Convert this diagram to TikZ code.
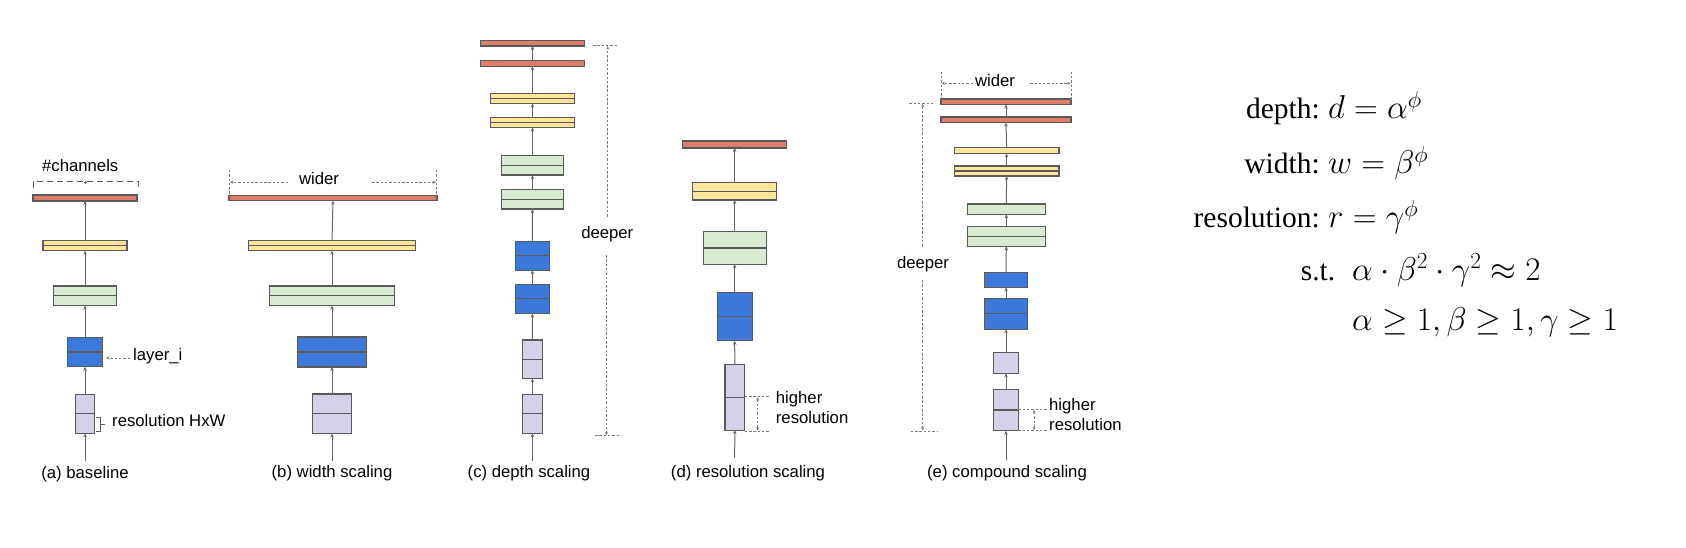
\RequirePackage{fix-cm}
\documentclass[tikz,border=0pt]{standalone}
\usepackage{fontspec}
\newfontfamily\arialf{Liberation Sans}
\newfontfamily\timesf{Liberation Serif}
\usetikzlibrary{arrows.meta}
\definecolor{cred}{HTML}{DD7E6B}
\definecolor{cyel}{HTML}{FFE599}
\definecolor{cgrn}{HTML}{D9EAD3}
\definecolor{cblu}{HTML}{3C78D8}
\definecolor{clav}{HTML}{D6D1E8}
\definecolor{cedge}{HTML}{5A5A5A}
\definecolor{cflow}{HTML}{666666}
\definecolor{cdash}{HTML}{7A7A7A}
\tikzset{
  layerbox/.style={draw=cedge, line width=1.1pt, inner sep=0pt, outer sep=0pt, rectangle},
  midline/.style={draw=cedge, line width=1.1pt},
  flow/.style={draw=cflow, line width=1pt, -{Stealth[length=4pt,width=3.5pt]}},
  dimline/.style={draw=cdash, line width=0.8pt, dash pattern=on 2.5pt off 1.8pt},
  dimarrow/.style={dimline, -{Stealth[length=3.5pt,width=3pt]}},
  dimdouble/.style={dimline, {Stealth[length=3.5pt,width=3pt]}-{Stealth[length=3.5pt,width=3pt]}},
  lbl/.style={font=\arialf\fontsize{16.7}{20}\selectfont, inner sep=0pt, text=black},
  eqlbl/.style={font=\timesf\fontsize{29.5}{36}\selectfont, inner sep=0pt, anchor=base east},
  eqmath/.style={font=\fontsize{33}{40}\selectfont, inner sep=0pt, anchor=base west},
}
\begin{document}
\begin{tikzpicture}[x=1pt,y=-1pt]
\useasboundingbox[fill=white] (0,0) rectangle (1686,548);

% ---------------- (a) baseline ----------------
\node[layerbox, fill=cred, minimum width=104pt, minimum height=6pt] (a1) at (85,198) {};
\node[layerbox, fill=cyel, minimum width=84pt, minimum height=10pt] (a2) at (85,245.7) {};
\node[layerbox, fill=cgrn, minimum width=63.4pt, minimum height=19.7pt] (a3) at (85,295.8) {};
\node[layerbox, fill=cblu, minimum width=34.7pt, minimum height=29.4pt] (a4) at (85,352) {};
\node[layerbox, fill=clav, minimum width=19.7pt, minimum height=39.3pt] (a5) at (85,413.7) {};
\foreach \n in {a2,a3,a4,a5} \draw[midline] (\n.west) -- (\n.east);
\coordinate (a0) at (85,461);
\draw[flow] (a0) -- (a5.south);
\draw[flow] (a5.north) -- (a4.south);
\draw[flow] (a4.north) -- (a3.south);
\draw[flow] (a3.north) -- (a2.south);
\draw[flow] (a2.north) -- (a1.south);
\node[lbl, anchor=base west] (chan) at (42,172) {\#channels};
\draw[draw=cedge, line width=1pt, dash pattern=on 6pt off 4pt] (33,188) -- (33,182) -- (138,182) -- (138,188);
\coordinate (chanlo) at (85.5,184.5);
\coordinate (chanhi) at (85.5,180.5);
\draw[draw=cedge, line width=0.8pt, -{Stealth[length=3pt,width=3.5pt]}] (chanlo) -- (chanhi);
\node[lbl, anchor=base west] (layi) at (133,360) {layer\_i};
\coordinate (layistart) at (130,358);
\coordinate (layiend) at (106,358);
\draw[dimarrow] (layistart) -- (layiend);
\draw[draw=cedge, line width=1.1pt] (96,417.3) -- (100.7,417.3) -- (100.7,431.7) -- (96,431.7)
  (100.7,424.5) -- (104.5,424.5);
\node[lbl, anchor=base west] (resHW) at (112,426) {resolution HxW};
\node[lbl, anchor=base] (capa) at (85,478) {(a) baseline};

% ---------------- (b) width scaling ----------------
\node[layerbox, fill=cred, minimum width=208pt, minimum height=5.5pt] (b1) at (333,198) {};
\node[layerbox, fill=cyel, minimum width=167pt, minimum height=10pt] (b2) at (332,245.7) {};
\node[layerbox, fill=cgrn, minimum width=125pt, minimum height=19.7pt] (b3) at (332,295.8) {};
\node[layerbox, fill=cblu, minimum width=69pt, minimum height=30pt] (b4) at (332,352) {};
\node[layerbox, fill=clav, minimum width=39pt, minimum height=39.7pt] (b5) at (332,413.8) {};
\foreach \n in {b2,b3,b4,b5} \draw[midline] (\n.west) -- (\n.east);
\coordinate (b0) at (332,461);
\draw[flow] (b0) -- (b5.south);
\draw[flow] (b5.north) -- (b4.south);
\draw[flow] (b4.north) -- (b3.south);
\draw[flow] (b3.north) -- (b2.south);
\draw[flow] (b2.north) -- (b1.south);
\node[lbl, anchor=base] (bwider) at (319,185) {wider};
\coordinate (btl) at (229.3,170); \coordinate (bbl) at (229.3,195);
\coordinate (btr) at (436.7,170); \coordinate (bbr) at (436.7,195);
\draw[dimline] (btl) -- (bbl);
\draw[dimline] (btr) -- (bbr);
\coordinate (bls) at (288,182.3); \coordinate (ble) at (229.8,182.3);
\coordinate (brs) at (372,182.3); \coordinate (bre) at (436.2,182.3);
\draw[dimarrow] (bls) -- (ble);
\draw[dimarrow] (brs) -- (bre);
\node[lbl, anchor=base] (capb) at (332,477) {(b) width scaling};

% ---------------- (c) depth scaling ----------------
\node[layerbox, fill=cred, minimum width=104.3pt, minimum height=5.5pt] (c1) at (532.5,43.3) {};
\node[layerbox, fill=cred, minimum width=104.3pt, minimum height=5.5pt] (c2) at (532.5,63.5) {};
\node[layerbox, fill=cyel, minimum width=83.6pt, minimum height=10pt] (c3) at (532.5,98.3) {};
\node[layerbox, fill=cyel, minimum width=83.6pt, minimum height=10pt] (c4) at (532.5,122.3) {};
\node[layerbox, fill=cgrn, minimum width=62.7pt, minimum height=19.7pt] (c5) at (532.5,165.2) {};
\node[layerbox, fill=cgrn, minimum width=62.7pt, minimum height=19.7pt] (c6) at (532.5,199.2) {};
\node[layerbox, fill=cblu, minimum width=34.3pt, minimum height=29.3pt] (c7) at (532.3,255.7) {};
\node[layerbox, fill=cblu, minimum width=34.3pt, minimum height=29.5pt] (c8) at (532.3,298.9) {};
\node[layerbox, fill=clav, minimum width=19.6pt, minimum height=38.5pt] (c9) at (532.5,359.2) {};
\node[layerbox, fill=clav, minimum width=19.6pt, minimum height=39pt] (c10) at (532.5,413.8) {};
\foreach \n in {c3,c4,c5,c6,c7,c8,c9,c10} \draw[midline] (\n.west) -- (\n.east);
\coordinate (c0) at (532.5,461);
\draw[flow] (c0) -- (c10.south);
\draw[flow] (c10.north) -- (c9.south);
\draw[flow] (c9.north) -- (c8.south);
\draw[flow] (c8.north) -- (c7.south);
\draw[flow] (c7.north) -- (c6.south);
\draw[flow] (c6.north) -- (c5.south);
\draw[flow] (c5.north) -- (c4.south);
\draw[flow] (c4.north) -- (c3.south);
\draw[flow] (c3.north) -- (c2.south);
\draw[flow] (c2.north) -- (c1.south);
\node[lbl, anchor=base] (cdeeper) at (607.3,238.7) {deeper};
\coordinate (ctt1) at (593,45.7); \coordinate (ctt2) at (618,45.7);
\coordinate (cbt1) at (595,435.7); \coordinate (cbt2) at (620,435.7);
\draw[dimline] (ctt1) -- (ctt2);
\draw[dimline] (cbt1) -- (cbt2);
\coordinate (cus) at (607.7,216.7); \coordinate (cue) at (607.7,46.2);
\coordinate (cds) at (606.5,255); \coordinate (cde) at (606.5,435.2);
\draw[dimarrow] (cus) -- (cue);
\draw[dimarrow] (cds) -- (cde);
\node[lbl, anchor=base] (capc) at (529,477) {(c) depth scaling};

% ---------------- (d) resolution scaling ----------------
\node[layerbox, fill=cred, minimum width=104pt, minimum height=7pt] (d1) at (734.7,144.5) {};
\node[layerbox, fill=cyel, minimum width=84pt, minimum height=17.3pt] (d2) at (734.7,191.4) {};
\node[layerbox, fill=cgrn, minimum width=62.7pt, minimum height=32.6pt] (d3) at (734.7,248) {};
\node[layerbox, fill=cblu, minimum width=34.7pt, minimum height=48.4pt] (d4) at (734.7,316.5) {};
\node[layerbox, fill=clav, minimum width=19.7pt, minimum height=65.7pt] (d5) at (734.8,397.2) {};
\foreach \n in {d2,d3,d4,d5} \draw[midline] (\n.west) -- (\n.east);
\coordinate (d0) at (734.7,458);
\draw[flow] (d0) -- (d5.south);
\draw[flow] (d5.north) -- (d4.south);
\draw[flow] (d4.north) -- (d3.south);
\draw[flow] (d3.north) -- (d2.south);
\draw[flow] (d2.north) -- (d1.south);
\coordinate (dh1a) at (744.7,396.7); \coordinate (dh1b) at (770,396.7);
\coordinate (dh2a) at (744.7,431); \coordinate (dh2b) at (770,431);
\draw[dimline] (dh1a) -- (dh1b);
\draw[dimline] (dh2a) -- (dh2b);
\coordinate (dva) at (757.7,397.2); \coordinate (dvb) at (757.7,430.5);
\draw[dimdouble] (dva) -- (dvb);
\node[lbl, anchor=base west] (dhigh) at (775.7,403.5) {higher};
\node[lbl, anchor=base west] (dres) at (775.7,423.5) {resolution};
\node[lbl, anchor=base] (capd) at (748,477) {(d) resolution scaling};

% ---------------- (e) compound scaling ----------------
\node[layerbox, fill=cred, minimum width=130pt, minimum height=5.5pt] (e1) at (1006,101.8) {};
\node[layerbox, fill=cred, minimum width=130pt, minimum height=5.5pt] (e2) at (1006,119.8) {};
\node[layerbox, fill=cyel, minimum width=104.7pt, minimum height=5.5pt] (e3) at (1006.6,150.7) {};
\node[layerbox, fill=cyel, minimum width=104.7pt, minimum height=10pt] (e4) at (1006.6,171) {};
\node[layerbox, fill=cgrn, minimum width=78pt, minimum height=10.3pt] (e5) at (1006.3,209.2) {};
\node[layerbox, fill=cgrn, minimum width=78pt, minimum height=20.3pt] (e6) at (1006.3,236.2) {};
\node[layerbox, fill=cblu, minimum width=43.4pt, minimum height=15.3pt] (e7) at (1006,279.7) {};
\node[layerbox, fill=cblu, minimum width=43.4pt, minimum height=31pt] (e8) at (1006,313.8) {};
\node[layerbox, fill=clav, minimum width=24.6pt, minimum height=21pt] (e9) at (1006,362.8) {};
\node[layerbox, fill=clav, minimum width=24.6pt, minimum height=41.4pt] (e10) at (1006,410) {};
\foreach \n in {e4,e6,e8,e10} \draw[midline] (\n.west) -- (\n.east);
\coordinate (e0) at (1006,460);
\draw[flow] (e0) -- (e10.south);
\draw[flow] (e10.north) -- (e9.south);
\draw[flow] (e9.north) -- (e8.south);
\draw[flow] (e8.north) -- (e7.south);
\draw[flow] (e7.north) -- (e6.south);
\draw[flow] (e6.north) -- (e5.south);
\draw[flow] (e5.north) -- (e4.south);
\draw[flow] (e4.north) -- (e3.south);
\draw[flow] (e3.north) -- (e2.south);
\draw[flow] (e2.north) -- (e1.south);
% wider
\node[lbl, anchor=base] (ewider) at (995,87) {wider};
\coordinate (etl) at (941,71.7); \coordinate (ebl) at (941,100);
\coordinate (etr) at (1071,71.7); \coordinate (ebr) at (1071,100);
\draw[dimline] (etl) -- (ebl);
\draw[dimline] (etr) -- (ebr);
\coordinate (els) at (973,83.3); \coordinate (ele) at (941.5,83.3);
\coordinate (ers) at (1030,83.3); \coordinate (ere) at (1070.5,83.3);
\draw[dimarrow] (els) -- (ele);
\draw[dimarrow] (ers) -- (ere);
% deeper
\node[lbl, anchor=base] (edeeper) at (923,268.7) {deeper};
\coordinate (ett1) at (909.3,103.3); \coordinate (ett2) at (935,103.3);
\coordinate (ebt1) at (910.7,431); \coordinate (ebt2) at (936.7,431);
\draw[dimline] (ett1) -- (ett2);
\draw[dimline] (ebt1) -- (ebt2);
\coordinate (eus) at (922.7,246.7); \coordinate (eue) at (922.7,103.8);
\coordinate (eds) at (922.7,280); \coordinate (ede) at (922.7,430.5);
\draw[dimarrow] (eus) -- (eue);
\draw[dimarrow] (eds) -- (ede);
% higher resolution
\coordinate (eh1a) at (1018.3,409.3); \coordinate (eh1b) at (1048,409.3);
\coordinate (eh2a) at (1018.3,430.7); \coordinate (eh2b) at (1048,430.7);
\draw[dimline] (eh1a) -- (eh1b);
\draw[dimline] (eh2a) -- (eh2b);
\coordinate (eva) at (1034,409.8); \coordinate (evb) at (1034,430.2);
\draw[dimdouble] (eva) -- (evb);
\node[lbl, anchor=base west] (ehigh) at (1049,410) {higher};
\node[lbl, anchor=base west] (eres) at (1049,430) {resolution};
\node[lbl, anchor=base] (cape) at (1007,477) {(e) compound scaling};

% ---------------- equations ----------------
\node[eqlbl] (l1) at (1320,119) {depth:};
\node[eqmath] (m1) at (1328,119) {$d=\alpha^{\phi}$};
\node[eqlbl] (l2) at (1320,174) {width:};
\node[eqmath] (m2) at (1328,174) {$w=\beta^{\phi}$};
\node[eqlbl] (l3) at (1320,228) {resolution:};
\node[eqmath] (m3) at (1328,228) {$r=\gamma^{\phi}$};
\node[eqlbl] (l4) at (1335.5,280) {s.t.};
\node[eqmath] (m4) at (1352,280) {$\alpha\cdot\beta^2\cdot\gamma^2\approx 2$};
\node[eqmath] (m5) at (1352,330) {$\alpha\geq 1,\beta\geq 1,\gamma\geq 1$};
\end{tikzpicture}
\end{document}
